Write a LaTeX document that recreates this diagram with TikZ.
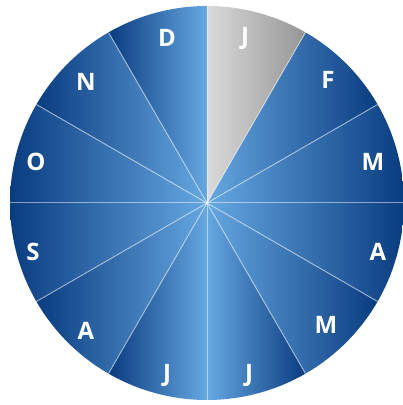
\documentclass[tikz,border=0pt]{standalone}
\usepackage{fontspec}
\setmainfont{Open Sans}
\usetikzlibrary{calc}
\definecolor{bdark}{HTML}{0A3C80}
\definecolor{bmid}{HTML}{1C6EC0}
\definecolor{blight}{HTML}{66A8E2}
\definecolor{glight}{HTML}{DADADA}
\definecolor{gdark}{HTML}{959595}
\begin{document}
\begin{tikzpicture}[x=1pt,y=1pt,
  leftsec/.style={left color=bdark, middle color=bmid, right color=blight},
  rightsec/.style={right color=bdark, middle color=bmid, left color=blight},
  graysec/.style={left color=glight, right color=gdark},
  divider/.style={draw=white, draw opacity=0.5, line width=1pt},
  month/.style={text=white, font=\bfseries\fontsize{24}{24}\selectfont, inner sep=0pt}]
\useasboundingbox (0,0) rectangle (403,405);
\coordinate (c) at (207,202);
\def\R{197}
% sectors
\foreach \a in {90,120,150,180,210,240} {
  \shade[leftsec] (c) -- ++(\a:\R) arc[start angle=\a, end angle=\a+30, radius=\R] -- cycle;
}
\foreach \a in {-90,-60,-30,0,30} {
  \shade[rightsec] (c) -- ++(\a:\R) arc[start angle=\a, end angle=\a+30, radius=\R] -- cycle;
}
\shade[graysec] (c) -- ++(60:\R) arc[start angle=60, end angle=90, radius=\R] -- cycle;
\foreach \a in {0,30,...,330} {
  \coordinate (e\a) at ($(c)+(\a:\R)$);
}
\foreach \a in {0,30,...,330} {
  \draw[divider] (c) -- (e\a);
}
\node[month] (mJan) at (245,367) {J};
\node[month] (mFeb) at (328,325) {F};
\node[month] (mMar) at (373,243) {M};
\node[month] (mApr) at (378,153) {A};
\node[month] (mMay) at (326,80) {M};
\node[month] (mJun) at (249,30) {J};
\node[month] (mJul) at (167,30) {J};
\node[month] (mAug) at (86,74) {A};
\node[month] (mSep) at (33,153) {S};
\node[month] (mOct) at (36,243) {O};
\node[month] (mNov) at (86,323) {N};
\node[month] (mDec) at (167,367) {D};
\end{tikzpicture}
\end{document}
